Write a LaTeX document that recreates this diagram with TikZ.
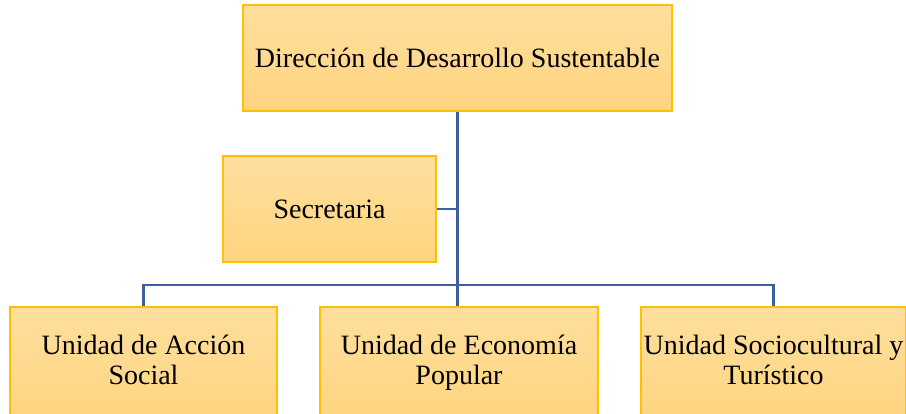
\documentclass[tikz,border=0pt]{standalone}
\usepackage{fontspec}
\setmainfont{Liberation Serif}
\usepackage{tikz}
\usetikzlibrary{positioning,calc}
\definecolor{boxtop}{HTML}{FFDF9E}
\definecolor{boxbot}{HTML}{FFD47F}
\definecolor{boxline}{HTML}{FFC000}
\definecolor{linkblue}{HTML}{3D5EA0}

\begin{document}
\begin{tikzpicture}[x=1pt, y=-1pt,
    unit/.style={draw=boxline, line width=1.2pt, rectangle, top color=boxtop, bottom color=boxbot,
        minimum height=106pt, inner sep=0pt, align=center, font=\fontsize{28}{29.5}\selectfont},
    link/.style={draw=linkblue, line width=2.8pt}]

    \useasboundingbox (0,0) rectangle (906,413);

    % Boxes
    \node[unit, minimum width=429pt] (dir) at (457.5,58) {Dirección de Desarrollo Sustentable};
    \node[unit, minimum width=213pt] (sec) at (329.5,209) {Secretaria};
    \node[unit, minimum width=267pt, minimum height=113pt] (u1) at (143.5,363.5) {Unidad de Acción\strut\\Social\strut};
    \node[unit, minimum width=278pt, minimum height=113pt] (u2) at (459,363.5) {Unidad de Economía\strut\\Popular\strut};
    \node[unit, minimum width=265pt, minimum height=113pt] (u3) at (773.5,363.5) {Unidad Sociocultural y\strut\\Turístico\strut};

    % Lines
    \coordinate (bus) at (458,285);
    \draw[link] (dir.south) -- (dir.south |- u2.north);
    \draw[link] (u1.north) |- (bus) -| (u3.north);
    \draw[link] (sec.east) -- (sec.east -| dir.south);
\end{tikzpicture}
\end{document}
